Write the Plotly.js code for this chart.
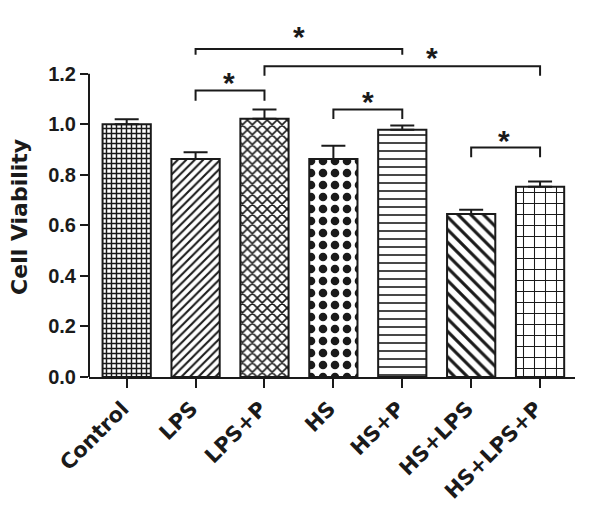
<!DOCTYPE html>
<html>
<head>
<meta charset="utf-8">
<script src="https://cdn.plot.ly/plotly-3.0.1.min.js"></script>
<style>html,body{margin:0;padding:0;background:#fff;}#chart{width:600px;height:510px;}</style>
</head>
<body>
<div id="chart"></div>
<script>
// ---- data ----
var categories = ['Control', 'LPS', 'LPS+P', 'HS', 'HS+P', 'HS+LPS', 'HS+LPS+P'];
var viability = [1.00, 0.862, 1.022, 0.862, 0.978, 0.645, 0.753];
var sem = [0.02, 0.027, 0.036, 0.053, 0.017, 0.017, 0.02];
var yTicks = [0, 0.2, 0.4, 0.6, 0.8, 1.0, 1.2];
// significance brackets: from index, to index, top y, leg-bottom y, star x, star y
var bracketFrom = [1, 1, 2, 3, 5];
var bracketTo = [2, 4, 6, 4, 6];
var bracketTop = [1.133, 1.298, 1.229, 1.058, 0.908];
var bracketLeg = [1.093, 1.275, 1.192, 1.021, 0.869];
var starX = [1.48, 2.5, 4.43, 3.5, 5.47];
var starY = [1.184, 1.366, 1.284, 1.11, 0.955];
var starLabel = ['*', '*', '*', '*', '*'];

// ---- styles ----
var patShapes = ['+', '/', 'x', '.', '-', '\\', '+'];
var patSizes = [5, 6, 7, 12, 8, 9, 11];
var patSolid = [0.5, 0.35, 0.4, 0.4, 0.2, 0.35, 0.18];
var FONT = 'Liberation Sans, Arial, Helvetica, sans-serif';
var WIDE = 'DejaVu Sans, Liberation Sans, Arial, sans-serif';
var INK = '#1a1a1a';

var trace = {
  type: 'bar',
  x: categories,
  y: viability,
  width: 0.7,
  marker: {
    color: '#ffffff',
    line: {color: INK, width: 2},
    pattern: {shape: patShapes, size: patSizes, solidity: patSolid, fgcolor: INK, bgcolor: '#ffffff', fillmode: 'replace'}
  },
  error_y: {type: 'data', array: sem, arrayminus: sem.map(function(){return 0;}), symmetric: false, color: INK, thickness: 2, width: 12},
  hoverinfo: 'x+y'
};

var shapes = [
  {type: 'line', xref: 'paper', yref: 'y', x0: 0, x1: 0, y0: 0, y1: yTicks[yTicks.length - 1], line: {color: INK, width: 2}}
];
var annotations = [];
for (var i = 0; i < bracketFrom.length; i++) {
  var a = bracketFrom[i], b = bracketTo[i];
  shapes.push({
    type: 'path', xref: 'x', yref: 'y',
    path: 'M ' + a + ',' + bracketLeg[i] + ' L ' + a + ',' + bracketTop[i] + ' L ' + b + ',' + bracketTop[i] + ' L ' + b + ',' + bracketLeg[i],
    line: {color: INK, width: 2}
  });
  annotations.push({
    xref: 'x', yref: 'y', x: starX[i], y: starY[i], text: starLabel[i], showarrow: false,
    yanchor: 'middle', yshift: -5,
    font: {family: FONT, size: 30, color: INK, weight: 'bold'}
  });
}
annotations.push({
  xref: 'paper', yref: 'paper', x: -0.143, y: 0.436, xanchor: 'center', yanchor: 'middle',
  text: 'Cell Viability', textangle: -90, showarrow: false,
  font: {family: WIDE, size: 22, color: INK, weight: 'bold'}
});

var layout = {
  width: 600, height: 510,
  margin: {l: 89, r: 25, t: 11, b: 133},
  paper_bgcolor: '#ffffff', plot_bgcolor: '#ffffff',
  showlegend: false,
  xaxis: {
    type: 'category', range: [-0.547, 6.507],
    showline: true, linecolor: INK, linewidth: 2,
    ticks: 'outside', ticklen: 9, tickwidth: 2, tickcolor: INK,
    tickangle: -45, showgrid: false, zeroline: false,
    ticklabelshift: -4,
    tickfont: {family: WIDE, size: 21, color: INK, weight: 'bold'}
  },
  yaxis: {
    range: [0, 1.448], tickvals: yTicks, tickformat: '.1f',
    showline: false, ticks: 'outside', ticklen: 8, tickwidth: 2, tickcolor: INK,
    showgrid: false, zeroline: false,
    tickfont: {family: FONT, size: 20, color: INK, weight: 'bold'}
  },
  shapes: shapes,
  annotations: annotations
};

Plotly.newPlot('chart', [trace], layout, {displayModeBar: false, staticPlot: true});
</script>
</body>
</html>
